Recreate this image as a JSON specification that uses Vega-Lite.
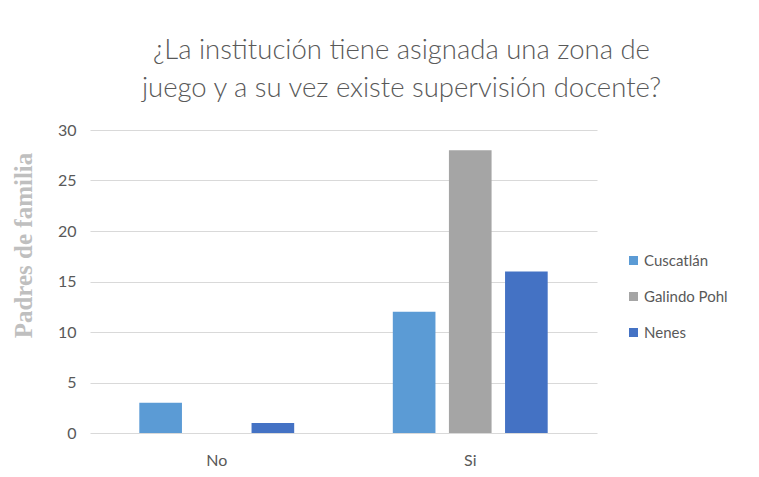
{
  "$schema": "https://vega.github.io/schema/vega-lite/v6.json",
  "width": 507,
  "height": 303,
  "autosize": "none",
  "padding": {"left": 90, "top": 130, "right": 162, "bottom": 44},
  "background": "white",
  "title": {
    "text": ["¿La institución tiene asignada una zona de", "juego y a su vez existe supervisión docente?"],
    "font": "Lato",
    "fontSize": 27.5,
    "fontWeight": 300,
    "color": "#595959",
    "lineHeight": 38,
    "anchor": "middle",
    "dx": 58,
    "offset": 20
  },
  "data": {
    "values": [
      {"respuesta": "No", "institucion": "Cuscatlán", "valor": 3},
      {"respuesta": "No", "institucion": "Galindo Pohl", "valor": 0},
      {"respuesta": "No", "institucion": "Nenes", "valor": 1},
      {"respuesta": "Si", "institucion": "Cuscatlán", "valor": 12},
      {"respuesta": "Si", "institucion": "Galindo Pohl", "valor": 28},
      {"respuesta": "Si", "institucion": "Nenes", "valor": 16}
    ]
  },
  "mark": {"type": "bar"},
  "encoding": {
    "x": {
      "field": "respuesta",
      "type": "nominal",
      "scale": {"paddingInner": 0.389, "paddingOuter": 0.1945},
      "axis": {
        "title": null,
        "labelAngle": 0,
        "labelFont": "Lato",
        "labelFontSize": 16,
        "labelColor": "#595959",
        "labelPadding": 19,
        "domain": false,
        "ticks": false
      }
    },
    "xOffset": {
      "field": "institucion",
      "type": "nominal",
      "scale": {"paddingInner": 0.24, "paddingOuter": 0}
    },
    "y": {
      "field": "valor",
      "type": "quantitative",
      "scale": {"domain": [0, 30]},
      "axis": {
        "values": [0, 5, 10, 15, 20, 25, 30],
        "title": "Padres de familia",
        "titleFont": "Liberation Serif",
        "titleFontSize": 25,
        "titleFontWeight": "bold",
        "titleColor": "#BFBFBF",
        "titleAngle": -90,
        "titleAlign": "center",
        "titleBaseline": "alphabetic",
        "titleX": -59,
        "titleY": 115,
        "labelFont": "Lato",
        "labelFontSize": 16,
        "labelColor": "#595959",
        "labelPadding": 14,
        "domain": false,
        "ticks": false,
        "gridColor": "#D9D9D9",
        "gridWidth": 1
      }
    },
    "color": {
      "field": "institucion",
      "type": "nominal",
      "scale": {
        "domain": ["Cuscatlán", "Galindo Pohl", "Nenes"],
        "range": ["#5B9BD5", "#A5A5A5", "#4472C4"]
      },
      "legend": {
        "title": null,
        "orient": "none",
        "legendX": 536,
        "legendY": 123,
        "symbolType": "square",
        "symbolSize": 81,
        "symbolStrokeWidth": 0,
        "labelFont": "Lato",
        "labelFontSize": 15,
        "labelColor": "#595959",
        "labelOffset": 3,
        "rowPadding": 20
      }
    }
  },
  "config": {
    "view": {"stroke": null}
  }
}
